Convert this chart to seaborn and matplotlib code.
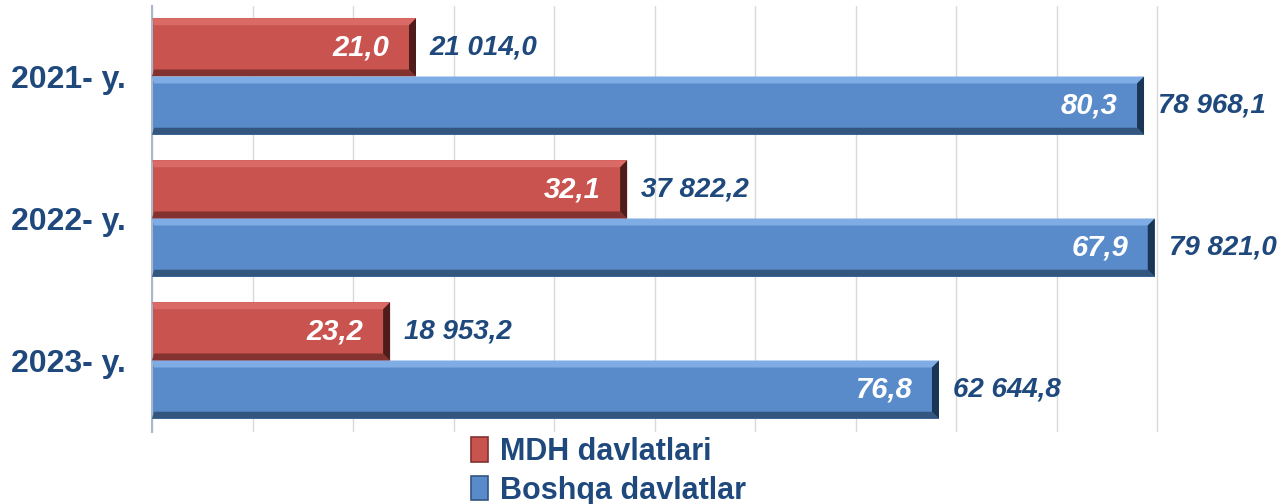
import numpy as np
import pandas as pd
import seaborn as sns
import matplotlib.pyplot as plt
from matplotlib.patches import Polygon, Patch

# chart data
years = ["2021- y.", "2022- y.", "2023- y."]
groups = ["MDH davlatlari", "Boshqa davlatlar"]
mdh_values = [21014.0, 37822.2, 18953.2]
other_values = [78968.1, 79821.0, 62644.8]
mdh_share = ["21,0", "32,1", "23,2"]
other_share = ["80,3", "67,9", "76,8"]
value_labels = [["21 014,0", "37 822,2", "18 953,2"],
                ["78 968,1", "79 821,0", "62 644,8"]]

df = pd.DataFrame({
    "year": years * 2,
    "group": [groups[0]] * 3 + [groups[1]] * 3,
    "value": mdh_values + other_values,
})

navy = "#1F497D"
face = {"MDH davlatlari": "#C9534F", "Boshqa davlatlar": "#598BCB"}
# bevel shades: top light, bottom dark, right end darkest
shades = [("#DA6A66", "#83322F", "#4E1C1A"), ("#7FACE4", "#33567F", "#1B3555")]

sns.set_theme(style="white")
plt.rcParams["font.family"] = ["Liberation Sans", "DejaVu Sans"]

fig = plt.figure(figsize=(12.81, 5.04), dpi=100)
xmax = 80200
ax = fig.add_axes([152 / 1281, 1 - 431.5 / 504, 1005 / 1281 * xmax / 80000, 426 / 504])

sns.barplot(data=df, y="year", x="value", hue="group", hue_order=groups,
            palette=face, width=0.82, orient="h", legend=False, ax=ax,
            linewidth=0, saturation=1)

ax.set_xlim(0, xmax)
ax.set_ylim(2.5, -0.5)
ax.set_xticks(np.arange(0, 80001, 8000))
ax.set_xticklabels([])
ax.tick_params(axis="x", length=0)
ax.tick_params(axis="y", length=0, pad=19)
ax.grid(axis="x", color="#D9D9D9", linewidth=1)
ax.set_axisbelow(True)
for s in ["top", "right", "bottom"]:
    ax.spines[s].set_visible(False)
ax.spines["left"].set_color("#AAB7C9")
ax.spines["left"].set_linewidth(1.5)
ax.set_xlabel("")
ax.set_ylabel("")
for lab in ax.get_yticklabels():
    lab.set_fontsize(23)
    lab.set_fontweight("bold")
    lab.set_color(navy)

# bevel in data units
bx = 7 * 80000 / 1005
by = 7 / 142

for gi, cont in enumerate(ax.containers):
    light, dark, darkest = shades[gi]
    shares = mdh_share if gi == 0 else other_share
    for bi, bar in enumerate(cont):
        x0 = bar.get_x()
        x1 = x0 + bar.get_width()
        y0 = bar.get_y()
        y1 = y0 + bar.get_height()
        ax.add_patch(Polygon([(x0, y0), (x1, y0), (x1 - bx, y0 + by), (x0 + bx * 0.3, y0 + by)],
                             closed=True, color=light, lw=0, zorder=3))
        ax.add_patch(Polygon([(x0, y1), (x1, y1), (x1 - bx, y1 - by), (x0 + bx * 0.3, y1 - by)],
                             closed=True, color=dark, lw=0, zorder=3))
        ax.add_patch(Polygon([(x1, y0), (x1, y1), (x1 - bx, y1 - by), (x1 - bx, y0 + by)],
                             closed=True, color=darkest, lw=0, zorder=3))
        yc = y0 + bar.get_height() / 2
        ax.annotate(shares[bi], xy=(x1, yc), xytext=(-19, 0), textcoords="offset points",
                    ha="right", va="center", color="white", fontsize=21,
                    fontweight="bold", fontstyle="italic", zorder=4)
        ax.annotate(value_labels[gi][bi], xy=(x1, yc), xytext=(10, 0), textcoords="offset points",
                    ha="left", va="center", color=navy, fontsize=20,
                    fontweight="bold", fontstyle="italic", zorder=4, annotation_clip=False)

handles = [Patch(facecolor=face[g], edgecolor=shades[i][1], linewidth=1.2) for i, g in enumerate(groups)]
leg = fig.legend(handles, groups, loc="upper left", bbox_to_anchor=(471 / 1281, 1 - 437 / 504),
                 frameon=False, fontsize=22, handlelength=0.55, handleheight=0.85,
                 handletextpad=0.4, labelspacing=0.28, borderpad=0, borderaxespad=0)
for t in leg.get_texts():
    t.set_color(navy)
    t.set_fontweight("bold")

fig.savefig("out.png", dpi=100, facecolor="white")
